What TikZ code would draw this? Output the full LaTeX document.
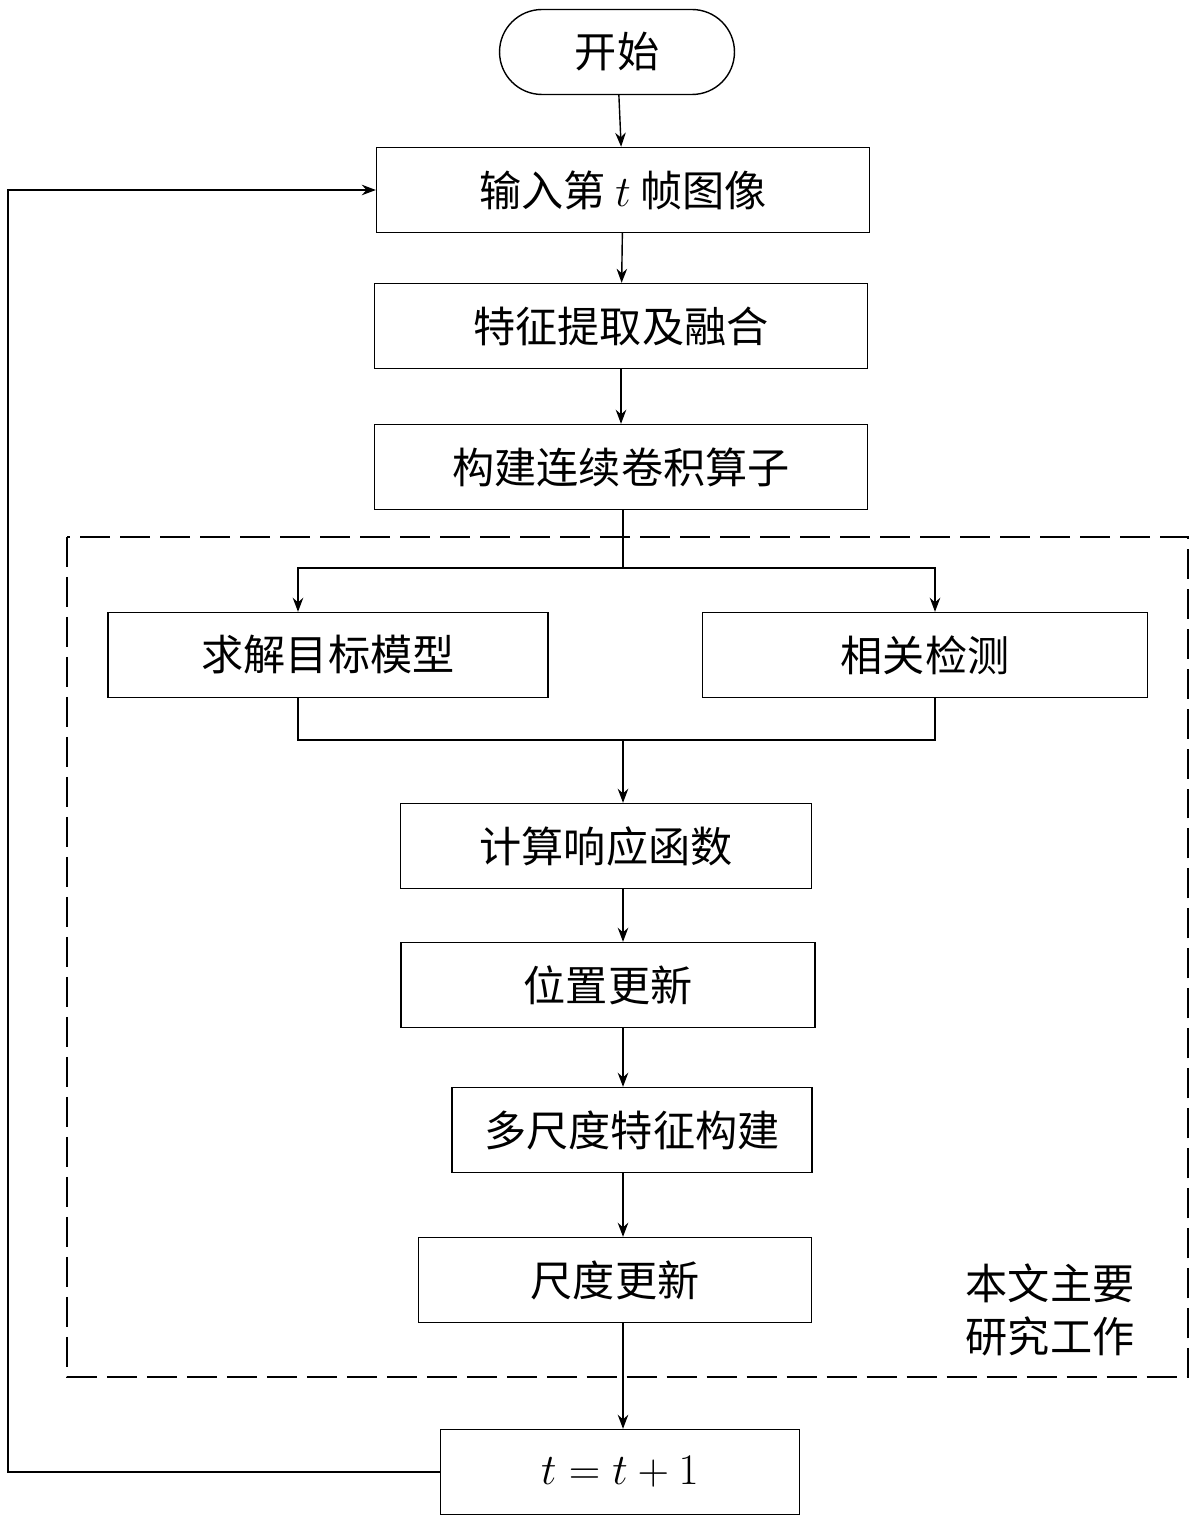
\documentclass[tikz,border=0pt]{standalone}
\usepackage{fontspec}
\newfontfamily\cjk{Noto Sans CJK SC}
\usetikzlibrary{arrows.meta,shapes.misc}
\tikzset{
  stepbox/.style={draw,thick,minimum height=1.7cm,inner sep=0pt,font=\cjk\fontsize{24}{28}\selectfont},
  flow/.style={thick,-{Stealth[length=8pt,width=6pt]}},
  region/.style={thick,dash pattern=on 0.6cm off 0.2cm}
}
\begin{document}
\begin{tikzpicture}[x=0.02cm,y=-0.02cm]
  \useasboundingbox (0,0) rectangle (1200,1523);
  \node[stepbox,rounded rectangle,minimum width=4.7cm] (start) at (617,52) {开始};
  \node[stepbox,minimum width=9.86cm] (input) at (623,190) {输入第 $t$ 帧图像};
  \node[stepbox,minimum width=9.86cm] (feat) at (621,326) {特征提取及融合};
  \node[stepbox,minimum width=9.86cm] (build) at (621,467) {构建连续卷积算子};
  \draw[region] (67,537) rectangle (1188,1377);
  \node[stepbox,minimum width=8.8cm] (solve) at (328,655) {求解目标模型};
  \node[stepbox,minimum width=8.9cm] (corr) at (925,655) {相关检测};
  \node[stepbox,minimum width=8.22cm] (calc) at (606,846) {计算响应函数};
  \node[stepbox,minimum width=8.28cm] (pos) at (608,985) {位置更新};
  \node[stepbox,minimum width=7.2cm] (multi) at (632,1130) {多尺度特征构建};
  \node[stepbox,minimum width=7.86cm] (scale) at (615,1280) {尺度更新};
  \node[stepbox,minimum width=7.18cm] (tt) at (620,1472) {$t=t+1$};
  \node[font=\cjk\fontsize{24}{30}\selectfont,align=left] (note) at (1050,1310) {本文主要\\研究工作};
  % main chain
  \draw[flow] (start) -- (input);
  \draw[flow] (input) -- (feat);
  \draw[flow] (feat) -- (build);
  \coordinate (split) at (623,568);
  \coordinate (merge) at (623,740);
  \draw[thick] (build.south -| split) -- (split);
  \draw[flow] (split) -| (solve.north -| 298,0);
  \draw[flow] (split) -| (corr.north -| 935,0);
  \draw[thick] (solve.south -| 298,0) |- (merge) -| (corr.south -| 935,0);
  \draw[flow] (merge) -- (merge |- calc.north);
  \draw[flow] (calc.south -| 623,0) -- (pos.north -| 623,0);
  \draw[flow] (pos.south -| 623,0) -- (multi.north -| 623,0);
  \draw[flow] (multi.south -| 623,0) -- (scale.north -| 623,0);
  \draw[flow] (scale.south -| 623,0) -- (tt.north -| 623,0);
  % feedback
  \draw[flow] (tt.west) -- (8,1472) |- (input.west);
\end{tikzpicture}
\end{document}
